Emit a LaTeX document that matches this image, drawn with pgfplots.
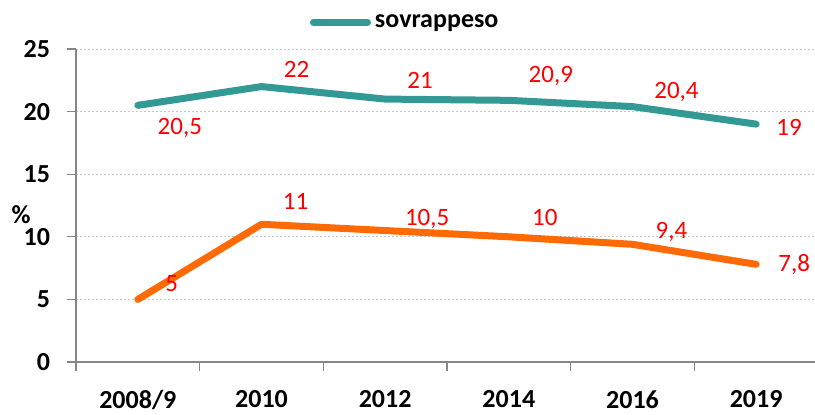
\documentclass[border=0pt]{standalone}
\usepackage{fontspec}
\setmainfont{Carlito}
\usepackage{pgfplots}
\usepackage{pgfplotstable}
\pgfplotsset{compat=1.18}

\definecolor{sovra}{RGB}{51,153,148}
\definecolor{arancio}{RGB}{255,106,5}
\definecolor{assi}{RGB}{134,134,134}

% x y dx dy  (dx, dy = offset of the value label, pt)
\pgfplotstableread{
x y dx dy
0 20.5 21 -11.5
1 22 17.5 8.5
2 21 17.5 9.5
3 20.9 21 12
4 20.4 22 7.5
5 19 16.5 -1.5
}\sovrappeso

\pgfplotstableread{
x y dx dy
0 5 17 8
1 11 17 11.5
2 10.5 21 6
3 10 18 9.5
4 9.4 19.5 6
5 7.8 19 0
}\obesita

\begin{document}
\begin{tikzpicture}
\begin{axis}[
  scale only axis,
  width=371pt, height=156.5pt,
  xmin=-0.5, xmax=5.5, ymin=0, ymax=25,
  ytick={0,5,...,25},
  xtick={-0.5,0.5,...,5.5},
  xticklabels={2008/9,2010,2012,2014,2016,2019},
  x tick label as interval,
  axis x line*=bottom, axis y line*=left,
  axis line style={-, draw=assi, line width=0.8pt},
  tick align=outside,
  major tick length=4.5pt,
  tick style={draw=assi, line width=0.6pt},
  ymajorgrids=true,
  grid style={dash pattern=on 1pt off 1pt, gray!45, line width=0.5pt},
  /pgf/number format/assume math mode=true,
  ticklabel style={font=\bfseries\fontsize{13}{16}\selectfont},
  xticklabel style={yshift=-6.3pt},
  yticklabel style={xshift=-5pt},
  ylabel={\%},
  every axis y label/.style={at={(axis description cs:-0.074,0.47)}, anchor=center,
    font=\bfseries\fontsize{13}{16}\selectfont},
  legend style={at={(axis description cs:0.445,1.086)}, anchor=center, draw=none,
    font=\bfseries\fontsize{13}{16}\selectfont},
  legend image code/.code={\draw[#1, line cap=round] (0pt,0pt) -- (27pt,0pt);},
  visualization depends on={\thisrow{dx} \as \dx},
  visualization depends on={\thisrow{dy} \as \dy},
  nodes near coords={\pgfmathprintnumber[use comma]{\pgfplotspointmeta}},
  every node near coord/.append style={anchor=center, xshift=\dx pt, yshift=\dy pt,
    text=red, font=\fontsize{12.5}{15}\selectfont},
  clip=false,
]
\addplot[sovra, line width=3.5pt, line cap=round, line join=round] table[x=x, y=y] {\sovrappeso};
\addlegendentry{sovrappeso}
\addplot[arancio, line width=3.5pt, line cap=round, line join=round, forget plot] table[x=x, y=y] {\obesita};
\end{axis}
\pgfresetboundingbox
\path (-38pt,-26pt) rectangle (369.5pt,181pt);
\end{tikzpicture}
\end{document}
